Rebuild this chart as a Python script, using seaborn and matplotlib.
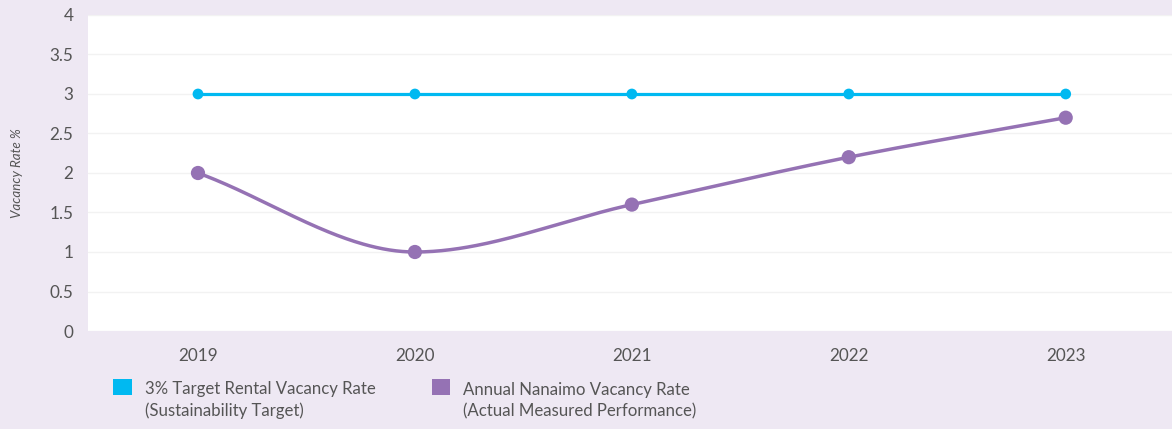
import numpy as np
import pandas as pd
import matplotlib
matplotlib.use("Agg")
import matplotlib.pyplot as plt
import seaborn as sns
from matplotlib.patches import Patch, Rectangle
from matplotlib.legend_handler import HandlerPatch

years = ["2019", "2020", "2021", "2022", "2023"]
target_rate = [3, 3, 3, 3, 3]
actual_rate = [2.0, 1.0, 1.6, 2.2, 2.7]
yticks = [0, 0.5, 1, 1.5, 2, 2.5, 3, 3.5, 4]
ytick_labels = ["0", "0.5", "1", "1.5", "2", "2.5", "3", "3.5", "4"]
label_target = "3% Target Rental Vacancy Rate\n(Sustainability Target)"
label_actual = "Annual Nanaimo Vacancy Rate\n(Actual Measured Performance)"
ylabel = "Vacancy Rate %"

CYAN = "#00B9F1"
PURPLE = "#9572B4"
BG = "#EEE8F3"
TXT = "#555555"

sns.set_theme(style="white")
plt.rcParams["font.family"] = ["Lato", "DejaVu Sans"]


def pchip(x, y, xs):
    x = np.asarray(x, float); y = np.asarray(y, float)
    h = np.diff(x); d = np.diff(y) / h
    m = np.zeros_like(y)
    for k in range(1, len(x) - 1):
        if d[k - 1] * d[k] > 0:
            w1 = 2 * h[k] + h[k - 1]; w2 = h[k] + 2 * h[k - 1]
            m[k] = (w1 + w2) / (w1 / d[k - 1] + w2 / d[k])
    m[0] = d[0]; m[-1] = d[-1]
    out = np.empty_like(xs)
    for i, xv in enumerate(xs):
        k = min(np.searchsorted(x, xv, side="right") - 1, len(x) - 2)
        t = (xv - x[k]) / h[k]
        h00 = 2*t**3 - 3*t**2 + 1; h10 = t**3 - 2*t**2 + t
        h01 = -2*t**3 + 3*t**2; h11 = t**3 - t**2
        out[i] = h00*y[k] + h10*h[k]*m[k] + h01*y[k+1] + h11*h[k]*m[k+1]
    return out


xpos = np.arange(len(years))
df = pd.DataFrame({"x": xpos, "target": target_rate, "actual": actual_rate})
xs = np.linspace(0, len(years) - 1, 400)
smooth = pd.DataFrame({"x": xs, "actual": pchip(xpos, actual_rate, xs)})

fig = plt.figure(figsize=(11.72, 4.29), dpi=100, facecolor=BG)
ax = fig.add_axes([88/1172, 1 - 331/429, 1 - 88/1172, (331 - 15)/429])
ax.set_facecolor("white")

sns.lineplot(data=df, x="x", y="target", ax=ax, color=CYAN, linewidth=2.3, zorder=3)
sns.scatterplot(data=df, x="x", y="target", ax=ax, color=CYAN, s=60, edgecolor="none", zorder=4)
sns.lineplot(data=smooth, x="x", y="actual", ax=ax, color=PURPLE, linewidth=2.5, zorder=3)
sns.scatterplot(data=df, x="x", y="actual", ax=ax, color=PURPLE, s=105, edgecolor="none", zorder=4)

ax.set_xlim(-0.507, len(years) - 1 + 0.49)
ax.set_ylim(0, 4)
ax.set_xticks(xpos)
ax.set_xticklabels(years)
ax.set_yticks(yticks)
ax.set_yticklabels(ytick_labels)
ax.tick_params(axis="both", length=0, labelsize=12.3, colors=TXT)
ax.tick_params(axis="x", pad=12)
ax.tick_params(axis="y", pad=10.5)
ax.grid(axis="y", color="#F2F2F2", linewidth=1)
ax.set_axisbelow(True)
for s in ax.spines.values():
    s.set_visible(False)
ax.set_xlabel("")
ax.set_ylabel("")
fig.text(17/1172, 1 - 173/429, ylabel, rotation=90, ha="center", va="center",
         fontsize=9.6, style="italic", color=TXT)


def square(legend, orig_handle, xdescent, ydescent, width, height, fontsize):
    return Rectangle((-xdescent, -ydescent + 0.86 * fontsize), width, height)


handles = [Patch(facecolor=CYAN, edgecolor="none"), Patch(facecolor=PURPLE, edgecolor="none")]
leg = fig.legend(handles, [label_target, label_actual], loc="upper left",
                 bbox_to_anchor=(110/1172, 1 - 378/429), ncol=2, frameon=False,
                 fontsize=12.1, labelcolor=TXT, handlelength=1.1, handleheight=1.1,
                 handletextpad=0.8, columnspacing=3.3, borderpad=0.2, borderaxespad=0,
                 handler_map={Patch: HandlerPatch(patch_func=square)})
for t in leg.get_texts():
    t.set_linespacing(1.4)

fig.savefig("out.png", dpi=100, facecolor=BG)
